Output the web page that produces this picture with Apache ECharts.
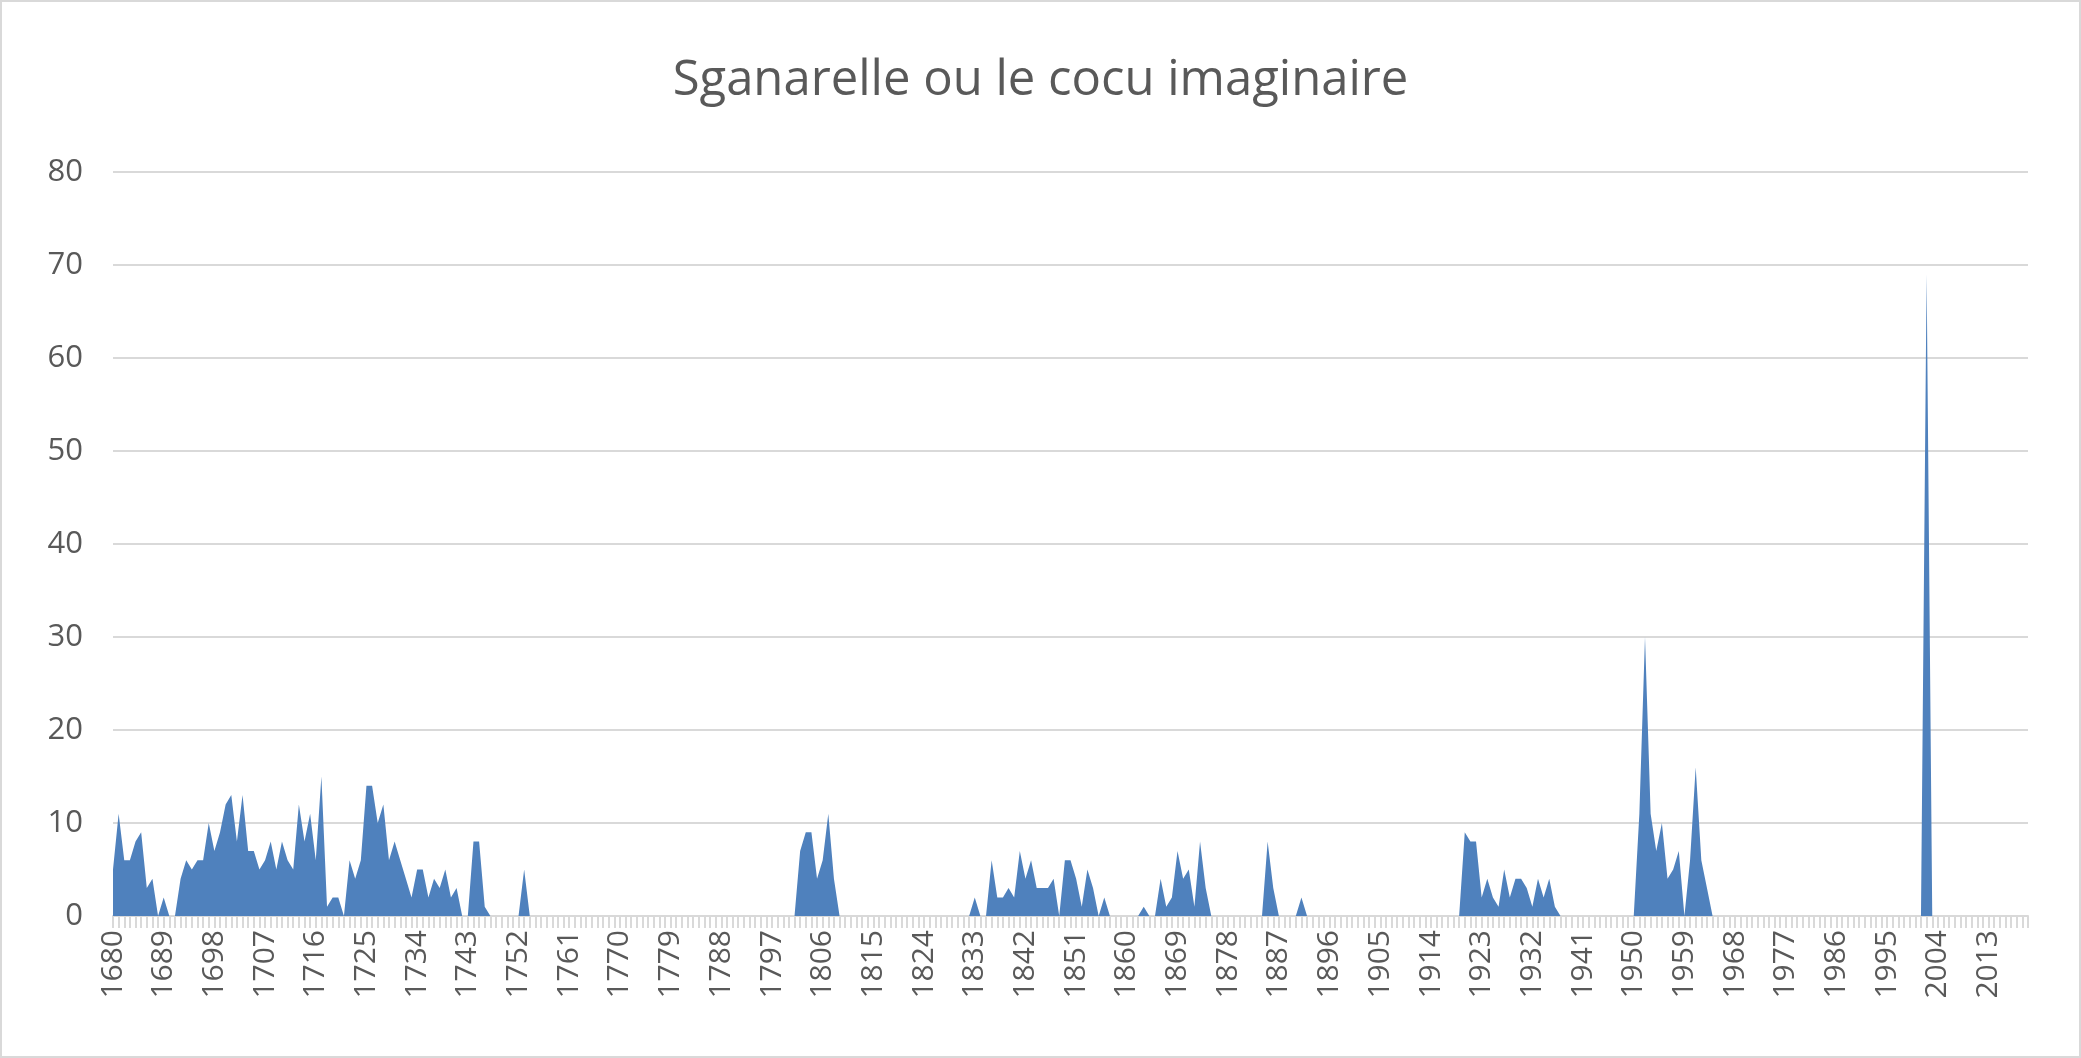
<!DOCTYPE html>
<html><head><meta charset="utf-8">
<script src="https://cdn.jsdelivr.net/npm/echarts@6/dist/echarts.min.js"></script>
<style>html,body{margin:0;padding:0;background:#fff}#c{width:2081px;height:1058px;box-sizing:border-box;border:2px solid #d9d9d9}</style>
</head><body><div id="c"></div>
<script>
const startYear = 1680, endYear = 2020;
const years = [];
for (let y = startYear; y <= endYear; y++) years.push(String(y));
const values = [
// 1680s
5,11,6,6,8,9,3,4,0,2,
// 1690s
0,0,4,6,5,6,6,10,7,9,
// 1700s
12,13,8,13,7,7,5,6,8,5,
// 1710s
8,6,5,12,8,11,6,15,1,2,
// 1720s
2,0,6,4,6,14,14,10,12,6,
// 1730s
8,6,4,2,5,5,2,4,3,5,
// 1740s
2,3,0,0,8,8,1,0,0,0,
// 1750s
0,0,0,5,0,0,0,0,0,0,
// 1760s
0,0,0,0,0,0,0,0,0,0,
// 1770s
0,0,0,0,0,0,0,0,0,0,
// 1780s
0,0,0,0,0,0,0,0,0,0,
// 1790s
0,0,0,0,0,0,0,0,0,0,
// 1800s
0,0,7,9,9,4,6,11,4,0,
// 1810s
0,0,0,0,0,0,0,0,0,0,
// 1820s
0,0,0,0,0,0,0,0,0,0,
// 1830s
0,0,0,2,0,0,6,2,2,3,
// 1840s
2,7,4,6,3,3,3,4,0,6,
// 1850s
6,4,1,5,3,0,2,0,0,0,
// 1860s
0,0,0,1,0,0,4,1,2,7,
// 1870s
4,5,1,8,3,0,0,0,0,0,
// 1880s
0,0,0,0,0,8,3,0,0,0,
// 1890s
0,2,0,0,0,0,0,0,0,0,
// 1900s
0,0,0,0,0,0,0,0,0,0,
// 1910s
0,0,0,0,0,0,0,0,0,0,
// 1920s
9,8,8,2,4,2,1,5,2,4,
// 1930s
4,3,1,4,2,4,1,0,0,0,
// 1940s
0,0,0,0,0,0,0,0,0,0,
// 1950s
0,11,30,11,7,10,4,5,7,0,
// 1960s
6,16,6,3,0,0,0,0,0,0,
// 1970s
0,0,0,0,0,0,0,0,0,0,
// 1980s
0,0,0,0,0,0,0,0,0,0,
// 1990s
0,0,0,0,0,0,0,0,0,0,
// 2000s
0,0,69,0,0,0,0,0,0,0,
// 2010s
0,0,0,0,0,0,0,0,0,0,
// 2020
0
];
const yTicks = [0,10,20,30,40,50,60,70,80];
const font = 'Open Sans';
const chart = echarts.init(document.getElementById('c'));
chart.setOption({
  animation:false,
  title:{text:'Sganarelle ou le cocu imaginaire',left:'center',top:50,
    textStyle:{fontFamily:font,fontSize:49,fontWeight:'normal',color:'#595959'}},
  grid:{left:111,right:51,top:170,bottom:140,containLabel:false},
  xAxis:{type:'category',data:years,boundaryGap:false,
    axisLine:{lineStyle:{color:'#d9d9d9',width:2}},
    axisTick:{show:true,interval:0,length:12,lineStyle:{color:'#d9d9d9',width:2}},
    axisLabel:{interval:8,rotate:90,fontFamily:font,fontSize:30,color:'#595959',margin:14}},
  yAxis:{type:'value',min:0,max:80,interval:10,
    axisLine:{show:false},axisTick:{show:false},
    splitLine:{lineStyle:{color:'#d9d9d9',width:2}},
    axisLabel:{fontFamily:font,fontSize:31,color:'#595959',margin:30,
      formatter:v=>yTicks.includes(v)?String(v):''}},
  series:[{type:'line',data:values,symbol:'none',
    lineStyle:{width:0},areaStyle:{color:'#4f81bd',opacity:1}}]
});
</script></body></html>
